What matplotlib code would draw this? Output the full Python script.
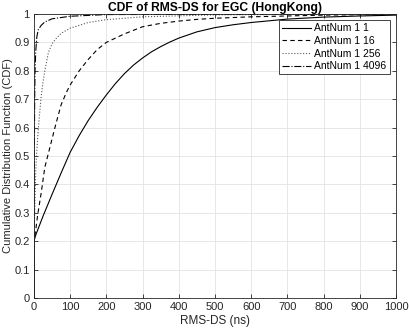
import matplotlib
matplotlib.use("Agg")
import matplotlib.pyplot as plt

plt.rcParams['font.family'] = ['Liberation Sans', 'DejaVu Sans']

# values (RMS-DS in ns, CDF)
x_1 = [0, 0, 5, 25, 50, 75, 100, 125, 150, 175, 200, 225, 250, 275, 300, 325, 350, 375,
       400, 450, 500, 550, 600, 700, 800, 900, 1000]
cdf_1 = [0, 0.2, 0.222, 0.288, 0.365, 0.44, 0.513, 0.572, 0.625, 0.672, 0.715, 0.755,
         0.79, 0.82, 0.845, 0.867, 0.885, 0.901, 0.915, 0.937, 0.952, 0.962, 0.97, 0.982,
         0.989, 0.993, 0.996]

x_16 = [0, 0, 5, 10, 20, 30, 40, 50, 60, 75, 90, 100, 125, 150, 175, 200, 250, 300, 350,
        400, 450, 500, 600, 800, 1000]
cdf_16 = [0, 0.2, 0.24, 0.29, 0.37, 0.46, 0.51, 0.56, 0.61, 0.68, 0.725, 0.75, 0.80, 0.84,
          0.875, 0.90, 0.93, 0.955, 0.967, 0.975, 0.981, 0.985, 0.99, 0.996, 0.999]

x_256 = [0, 0, 1, 2, 3, 5, 7, 10, 15, 20, 25, 30, 40, 50, 60, 75, 100, 150, 200, 300,
         500, 1000]
cdf_256 = [0, 0.2, 0.25, 0.3, 0.36, 0.45, 0.5, 0.56, 0.64, 0.71, 0.76, 0.8, 0.865, 0.895,
           0.912, 0.932, 0.95, 0.97, 0.98, 0.99, 0.997, 1.0]

x_4096 = [0, 0, 1, 2, 3, 5, 8, 12, 20, 30, 50, 100, 200, 1000]
cdf_4096 = [0, 0.2, 0.5, 0.7, 0.8, 0.87, 0.92, 0.945, 0.96, 0.972, 0.983, 0.992, 0.998, 1.0]

labels = ['AntNum 1 1', 'AntNum 1 16', 'AntNum 1 256', 'AntNum 1 4096']

fig = plt.figure(figsize=(4.09, 3.33), dpi=100)
ax = fig.add_axes([0.083, 0.105, 0.885, 0.853])

ax.plot(x_1, cdf_1, '-', color='k', lw=0.8, label=labels[0])
ax.plot(x_16, cdf_16, '--', color='k', lw=0.8, label=labels[1], dashes=(4, 3))
ax.plot(x_256, cdf_256, ':', color='#555555', lw=0.8, label=labels[2])
ax.plot(x_4096, cdf_4096, '-.', color='k', lw=0.8, label=labels[3])

ax.set_xlim(0, 1000)
ax.set_ylim(0, 1)
ax.set_xticks(range(0, 1001, 100))
ax.set_yticks([i / 10 for i in range(11)])
ax.set_yticklabels(['0', '0.1', '0.2', '0.3', '0.4', '0.5', '0.6', '0.7', '0.8', '0.9', '1'])
ax.grid(True, color='#e3e3e3', lw=0.6)
ax.set_axisbelow(True)
ax.tick_params(direction='in', length=3, width=0.6, labelsize=8, colors='#262626',
               top=True, right=True, pad=3)
for s in ax.spines.values():
    s.set_color('#262626')
    s.set_linewidth(0.6)

ax.set_xlabel('RMS-DS (ns)', fontsize=8.5, color='#262626', labelpad=2)
ax.set_ylabel('Cumulative Distribution Function (CDF)', fontsize=8, color='#262626',
              va='center')
ax.yaxis.set_label_coords(-0.073, 0.5)
ax.set_title('CDF of RMS-DS for EGC (HongKong)', fontsize=8.7, fontweight='bold', pad=2)

leg = ax.legend(loc='upper right', fontsize=7.5, fancybox=False, framealpha=1,
                edgecolor='#262626', handlelength=2.8, borderaxespad=0.6,
                labelspacing=0.25, handletextpad=0.3, borderpad=0.3)
leg.get_frame().set_linewidth(0.6)

fig.savefig('out.png', dpi=100)
